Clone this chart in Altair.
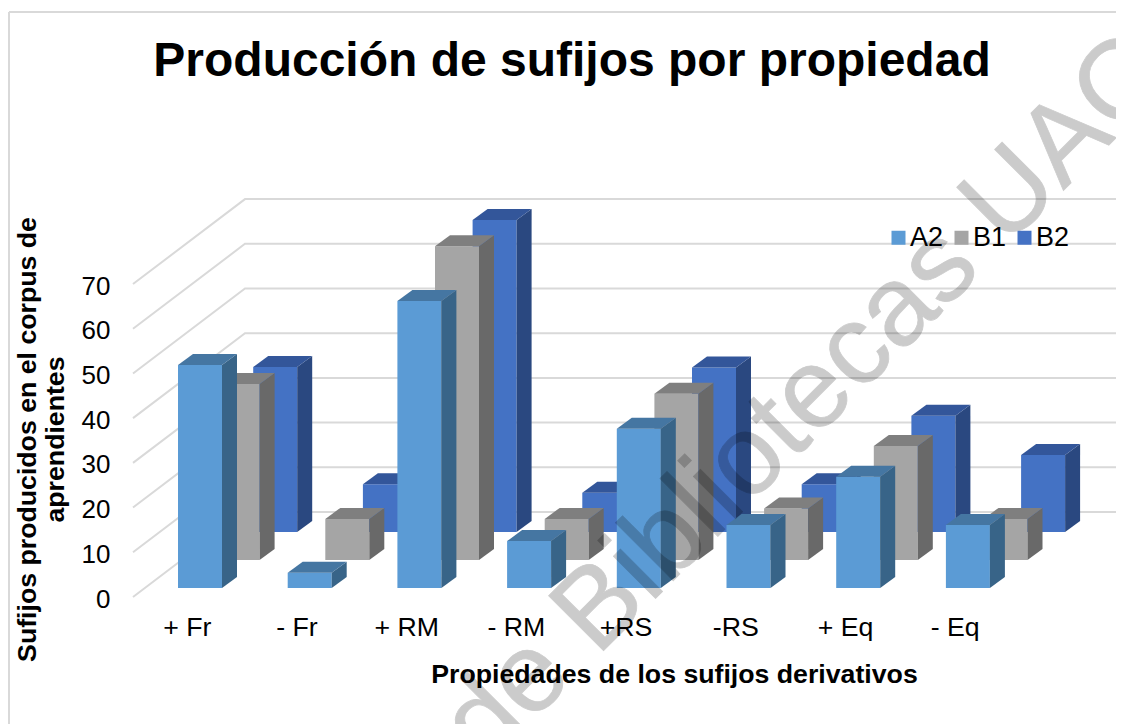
import altair as alt
import pandas as pd

categories = ["+ Fr", "- Fr", "+ RM", "- RM", "+RS", "-RS", "+ Eq", "- Eq"]
series = ["A2", "B1", "B2"]
a2 = [49.9, 3.4, 64.2, 10.5, 35.6, 14.1, 24.9, 14.1]
b1 = [39.4, 9.2, 70.2, 9.2, 37.2, 11.5, 25.5, 9.2]
b2 = [36.9, 10.7, 69.8, 8.8, 36.8, 10.7, 26.0, 17.2]
ticks = [0, 10, 20, 30, 40, 50, 60, 70]
front_colors = ["#5B9BD5", "#A5A5A5", "#4472C4"]
side_colors = ["#386488", "#696969", "#2A4880"]
top_colors = ["#4576A2", "#7F7F7F", "#33569A"]

W, H = 1108, 716
PX_X = 109.7       # pixels per category
PX_Y = 4.47        # pixels per value unit
x_dom = [(8 - 178) / PX_X, (8 + W - 178) / PX_X]
y_dom = [(588 - 8 - H) / PX_Y, (588 - 8) / PX_Y]
BAR = 44 / PX_X
STEP_X = 37.6 / PX_X
STEP_Y = 28 / PX_Y
DEPTH_X = 15 / PX_X
DEPTH_Y = 11 / PX_Y

FONT = "Liberation Sans"
xs = alt.Scale(domain=x_dom, nice=False, zero=False)
ys = alt.Scale(domain=y_dom, nice=False, zero=False)
label_expr = "[" + ",".join(f"'{c}'" for c in categories) + "][round(datum.value - 0.08)]"
x_axis = alt.Axis(
    values=[i + 0.08 for i in range(8)], labelExpr=label_expr, domain=False, ticks=False, grid=False,
    offset=-110, labelPadding=0, labelFontSize=26.7, labelFont=FONT, labelColor="#000000",
    labelFlush=False, labelOverlap=False,
    title="Propiedades de los sufijos derivativos", titleFont=FONT, titleFontSize=26.7, titleFontWeight="bold",
    titleColor="#000000", titleX=666, titleY=47, titleAnchor="middle")
y_axis = alt.Axis(
    values=ticks, domain=False, ticks=False, grid=False, offset=-102, labelPadding=0,
    labelFontSize=26, labelFont=FONT, labelColor="#000000", labelOffset=11, labelFlush=False,
    labelOverlap=False,
    title=["Sufijos producidos en el corpus de", "aprendientes"], titleFont=FONT, titleFontSize=26.7,
    titleFontWeight="bold", titleColor="#000000", titleX=-69, titleY=431, titleAnchor="middle")
X = alt.X("x:Q", scale=xs, axis=x_axis)
Y = alt.Y("y:Q", scale=ys, axis=y_axis)
Y2 = alt.Y2("y2:Q")
color_scale = alt.Scale(domain=series, range=front_colors)

fronts, sides, tops = [], [], []
for s, vals in enumerate([a2, b1, b2]):
    for i, v in enumerate(vals):
        x0 = i + s * STEP_X
        base = s * STEP_Y
        t = base + v
        bid = f"{s}-{i}"
        fronts.append(dict(series=series[s], s=s, x=x0, x2=x0 + BAR, y=base, y2=t))
        xr = x0 + BAR
        sides += [dict(s=s, bar=bid, x=xr, y=base, y2=t),
                  dict(s=s, bar=bid, x=xr + DEPTH_X, y=base + DEPTH_Y, y2=t + DEPTH_Y)]
        tops += [dict(s=s, bar=bid, x=x0, y=t, y2=t),
                 dict(s=s, bar=bid, x=x0 + DEPTH_X, y=t, y2=t + DEPTH_Y),
                 dict(s=s, bar=bid, x=xr, y=t, y2=t + DEPTH_Y),
                 dict(s=s, bar=bid, x=xr + DEPTH_X, y=t + DEPTH_Y, y2=t + DEPTH_Y)]
fronts, sides, tops = map(pd.DataFrame, (fronts, sides, tops))

grid = []
for v in ticks:
    grid += [dict(v=v, ord=0, x=(133 - 178) / PX_X, y=v - 2),
             dict(v=v, ord=1, x=(245 - 178) / PX_X, y=v + 17),
             dict(v=v, ord=2, x=(1116 - 178) / PX_X, y=v + 17)]
grid = pd.DataFrame(grid)

frame_l = alt.Chart(pd.DataFrame({"a": [0]})).mark_rule(color="#D9D9D9", strokeWidth=2).encode(
    x=alt.value(1), y=alt.value(4), y2=alt.value(H))
frame_t = alt.Chart(pd.DataFrame({"a": [0]})).mark_rule(color="#D9D9D9", strokeWidth=2).encode(
    x=alt.value(1), x2=alt.value(W), y=alt.value(4))

grid_layer = alt.Chart(grid).mark_line(color="#D9D9D9", strokeWidth=2).encode(
    x=X, y=Y, detail="v:N", order="ord:Q")

layers = [frame_l, frame_t, grid_layer]
legend = alt.Legend(orient="none", legendX=877, legendY=216, direction="horizontal", title=None,
                    symbolType="square", symbolSize=196, symbolStrokeWidth=0, symbolOpacity=1,
                    labelFont=FONT, labelFontSize=27, labelColor="#000000", labelOffset={"expr": "-2"},
                    columns=3, columnPadding=4)
for s in [2, 1, 0]:
    layers.append(alt.Chart(fronts[fronts.s == s]).mark_rect().encode(
        x=X, x2="x2:Q", y=Y, y2=Y2,
        color=alt.Color("series:N", scale=color_scale, legend=legend)))
    layers.append(alt.Chart(sides[sides.s == s]).mark_area(color=side_colors[s], opacity=1).encode(
        x=X, y=Y, y2=Y2, detail="bar:N"))
    layers.append(alt.Chart(tops[tops.s == s]).mark_area(color=top_colors[s], opacity=1).encode(
        x=X, y=Y, y2=Y2, detail="bar:N"))

wm = alt.Chart(pd.DataFrame({"x": [(806 - 178) / PX_X], "y": [(588 - 400) / PX_Y], "t": ["de Bibliotecas UAC"]})).mark_text(
    angle=315, font=FONT, fontSize=113, color="#000000", stroke="#000000", strokeWidth=0.8, opacity=0.2,
    align="center", baseline="middle"
).encode(x=X, y=Y, text="t:N")
layers.append(wm)

chart = alt.layer(*layers).properties(
    width=W, height=H, padding=0, background="white",
    autosize=alt.AutoSizeParams(type="none"),
    title=alt.TitleParams("Producción de sufijos por propiedad", font=FONT, fontSize=48, fontWeight="bold",
                          color="#000000", anchor="middle", offset=-78, dx=10),
).configure_view(stroke=None)

chart.save("out.html", embed_options={"renderer": "svg", "actions": False})
